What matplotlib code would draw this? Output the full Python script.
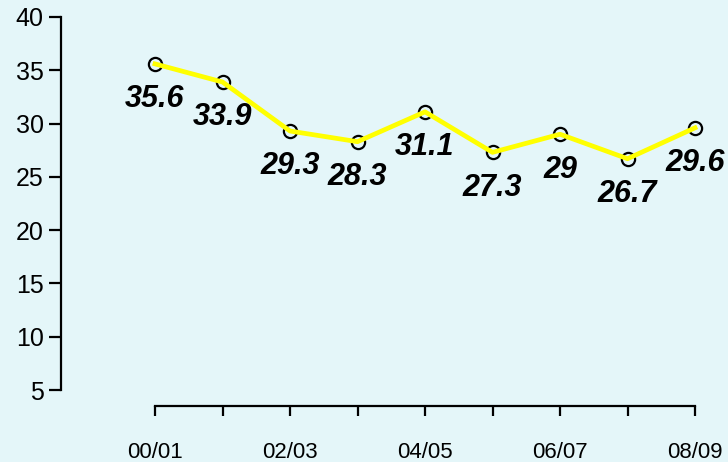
import matplotlib
matplotlib.use('Agg')
import matplotlib.pyplot as plt

# data
seasons = ['00/01', '01/02', '02/03', '03/04', '04/05', '05/06', '06/07', '07/08', '08/09']
values = [35.6, 33.9, 29.3, 28.3, 31.1, 27.3, 29.0, 26.7, 29.6]
value_labels = ['35.6', '33.9', '29.3', '28.3', '31.1', '27.3', '29', '26.7', '29.6']
y_ticks = [5, 10, 15, 20, 25, 30, 35, 40]

bg = '#E4F6F9'
plt.rcParams['font.family'] = ['Liberation Sans', 'DejaVu Sans']

W, H = 728, 462
fig = plt.figure(figsize=(W / 100, H / 100), dpi=100, facecolor=bg)

# axes box: left spine at x=61px, bottom spine at y=406px
ax = fig.add_axes([61 / W, (H - 406) / H, (W - 61) / W, 406 / H])
ax.set_facecolor(bg)

x = list(range(len(seasons)))
ax.plot(x, values, ls='none', marker='o', ms=9.5, mfc='none', mec='black',
        mew=1.6, zorder=2, clip_on=False)
ax.plot(x, values, color='#FFFF00', lw=3.4, zorder=3, clip_on=False)

for xi, v, lab in zip(x, values, value_labels):
    ax.annotate(lab, (xi, v), xytext=(0, -25.5), textcoords='offset points',
                ha='center', va='center', fontsize=22, fontweight='bold',
                fontstyle='italic', color='black', annotation_clip=False)

# pixel -> data mapping
dx = 67.5
ax.set_xlim((61 - 155) / dx, (W - 155) / dx)
dy = 373 / 35
ax.set_ylim(5 - 16 / dy, 5 + 390 / dy)

for side in ['top', 'right']:
    ax.spines[side].set_visible(False)
ax.spines['left'].set_bounds(5, 40)
ax.spines['bottom'].set_bounds(0, 8)
ax.spines['left'].set_linewidth(1.6)
ax.spines['bottom'].set_linewidth(1.6)

ax.set_yticks(y_ticks)
ax.set_yticklabels([str(t) for t in y_ticks], fontsize=18)
ax.set_xticks(x)
ax.set_xticklabels([s if i % 2 == 0 else '' for i, s in enumerate(seasons)], fontsize=16)
ax.tick_params(axis='y', length=8.5, width=1.6, pad=4)
ax.tick_params(axis='x', length=7.2, width=1.6, pad=19)

fig.savefig('out.png', dpi=100, facecolor=bg)
